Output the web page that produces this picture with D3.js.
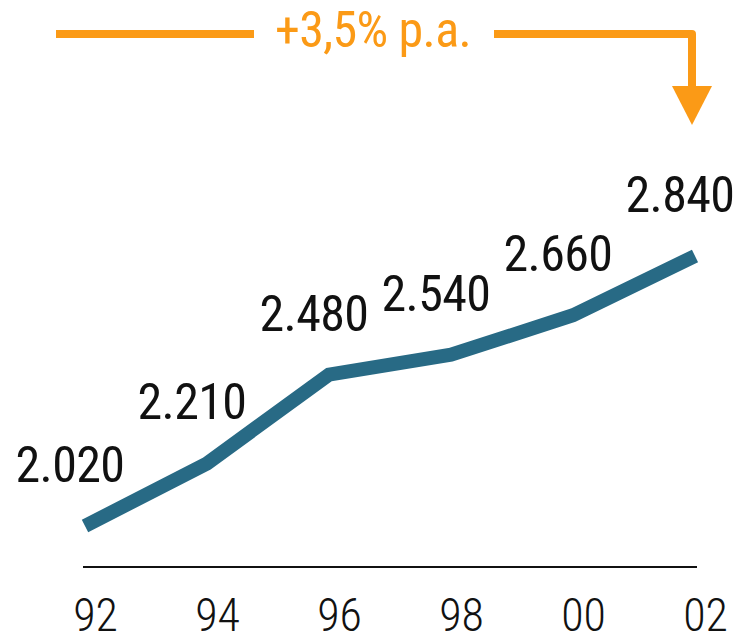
<!DOCTYPE html>
<html>
<head>
<meta charset="utf-8">
<script src="https://cdn.jsdelivr.net/npm/d3@7"></script>
<style>
  body { margin: 0; background: #fff; }
  text { font-family: Roboto, "Open Sans", sans-serif; font-stretch: condensed; }
</style>
</head>
<body>
<script>
// data
var years = ["92", "94", "96", "98", "00", "02"];
var values = [2020, 2210, 2480, 2540, 2660, 2840];
var growthLabel = "+3,5% p.a.";

var width = 746;
var height = 638;
var lineColor = "#286a85";
var orange = "#fb9a16";

var de = d3.formatLocale({decimal: ",", thousands: ".", grouping: [3], currency: ["", "€"]});
var fmt = de.format(",");

var data = years.map(function(y, i) { return {year: y, value: values[i]}; });

var xScale = d3.scalePoint()
				.domain(years)
				.range([85, 695]);

var yScale = d3.scaleLinear()
				.domain([2020, 2840])
				.range([526, 256]);

var svg = d3.select("body")
			.append("svg")
			.attr("width", width)
			.attr("height", height);

// x axis
var axisY = 567;
var xAxis = svg.append("g")
				.attr("transform", `translate(0,${axisY})`)
				.call(d3.axisBottom(xScale).tickSize(0).tickSizeOuter(0));
xAxis.attr("font-family", null).attr("font-size", null);
xAxis.select(".domain")
	.attr("d", "M" + (xScale.range()[0] - 2) + ",0H" + (xScale.range()[1] + 2))
	.attr("stroke", "#111")
	.attr("stroke-width", 2);
xAxis.selectAll(".tick text")
	.attr("x", 10)
	.attr("y", 64)
	.attr("dy", "0")
	.attr("fill", "#111")
	.style("font-weight", 300)
	.style("font-size", "46px");

// the line
var valueline = d3.line()
					.x(function(d) { return xScale(d.year); })
					.y(function(d) { return yScale(d.value); });

svg.append("path")
	.datum(data)
	.attr("fill", "none")
	.attr("stroke", lineColor)
	.attr("stroke-width", 14)
	.attr("stroke-linejoin", "miter")
	.attr("d", valueline);

// value labels
svg.selectAll(".val")
	.data(data)
	.enter().append("text")
	.attr("class", "val")
	.attr("text-anchor", "middle")
	.attr("x", function(d) { return xScale(d.year) - 15; })
	.attr("y", function(d) { return yScale(d.value) - 44; })
	.attr("fill", "#111")
	.style("font-size", "50px")
	.style("letter-spacing", "-0.6px")
	.text(function(d) { return fmt(d.value); });

// growth annotation
var topY = 34;
var arrowX = xScale(years[years.length - 1]) - 3;
var textX = 373;

svg.append("text")
	.attr("x", textX)
	.attr("y", 47)
	.attr("text-anchor", "middle")
	.attr("fill", orange)
	.style("font-size", "50px")
	.style("letter-spacing", "-0.6px")
	.text(growthLabel);

svg.append("line")
	.attr("x1", xScale(years[0]) - 29).attr("x2", 254)
	.attr("y1", topY).attr("y2", topY)
	.attr("stroke", orange)
	.attr("stroke-width", 8);

svg.append("path")
	.attr("d", "M494," + topY + "H" + arrowX + "V90")
	.attr("fill", "none")
	.attr("stroke", orange)
	.attr("stroke-width", 8)
	.attr("stroke-linejoin", "round");

svg.append("path")
	.attr("d", "M" + (arrowX - 20) + ",86L" + (arrowX + 20) + ",86L" + arrowX + ",125Z")
	.attr("fill", orange);
</script>
</body>
</html>
